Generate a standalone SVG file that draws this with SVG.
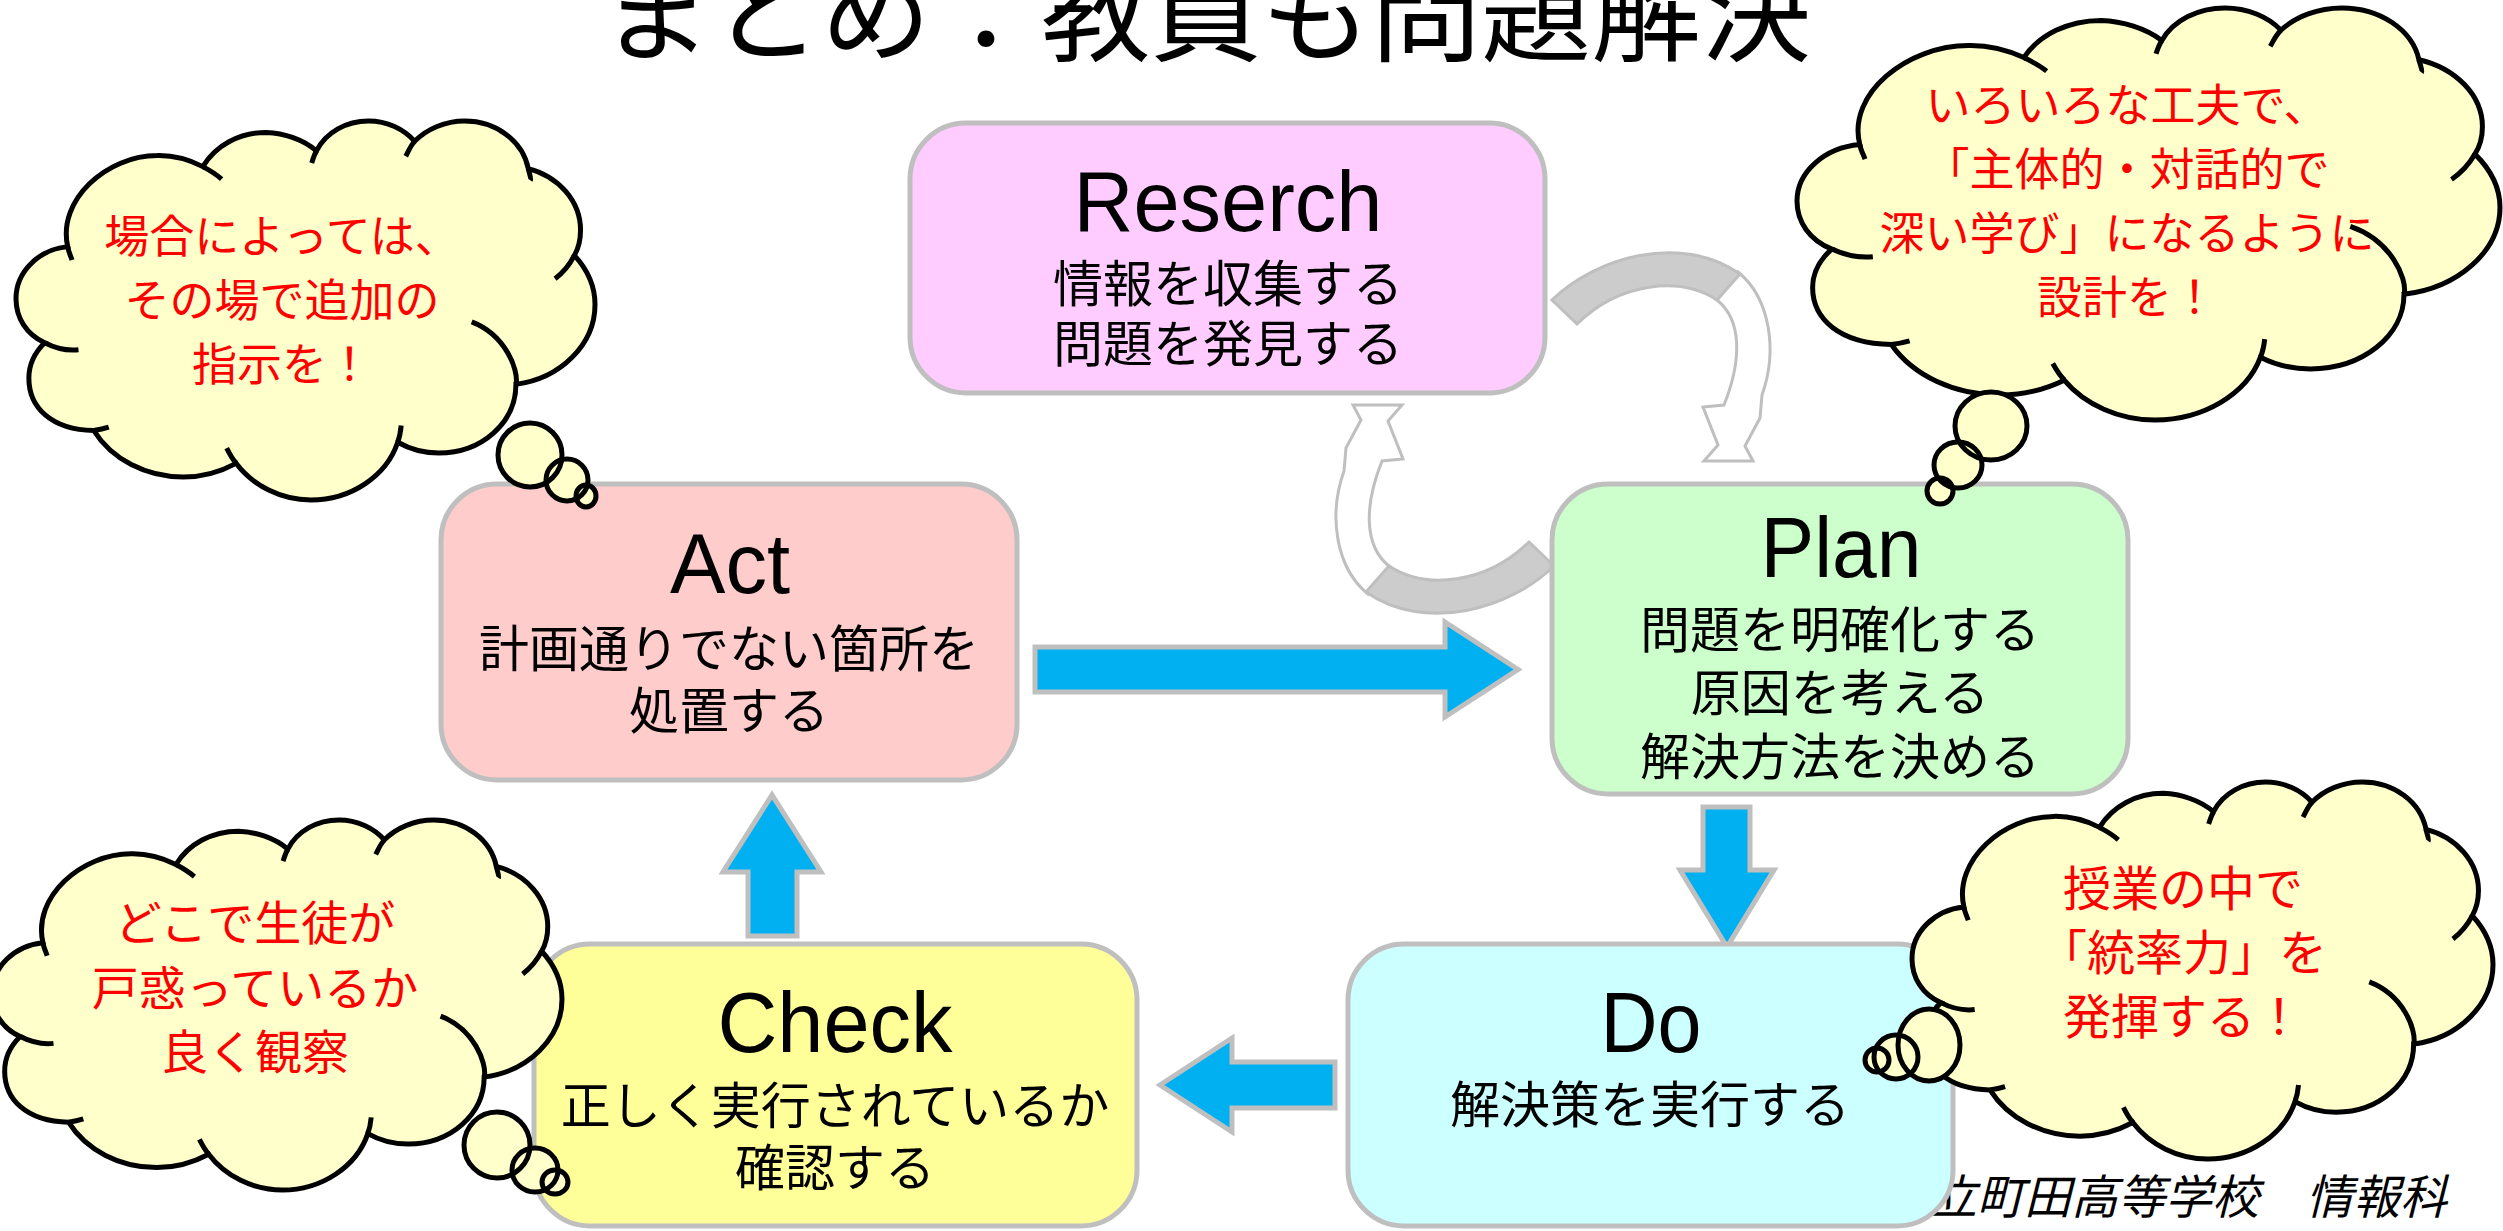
<svg xmlns="http://www.w3.org/2000/svg" xmlns:xlink="http://www.w3.org/1999/xlink" width="2503" height="1231" viewBox="0 0 2503 1231">
<style>
.box{stroke:#BFBFBF;stroke-width:5}
.lbl{font-family:"Liberation Sans","Noto Sans CJK JP",sans-serif;font-size:86px;fill:#000;text-anchor:middle}
.jp{font-family:"Noto Sans CJK JP","Liberation Sans",sans-serif;font-size:50px;fill:#000;text-anchor:middle}
.ctx{font-family:"Noto Sans CJK JP","Liberation Sans",sans-serif;fill:#FF0000;text-anchor:middle}
.arrow{fill:#00B0F0;stroke:#BFBFBF;stroke-width:5;stroke-linejoin:miter}
.band{fill:#CCCCCC;stroke:#BFBFBF;stroke-width:3}
.back{fill:#FFFFFF;stroke:#BFBFBF;stroke-width:3}
.cloud{fill:#FFFFCC;stroke:#000;stroke-width:5}
.cline{fill:none;stroke:#000;stroke-width:5}
.bf{fill:#FFFFCC;stroke:none}
.bs{fill:none;stroke:#000;stroke-width:5}
</style>
<defs>
<path id="cb" vector-effect="non-scaling-stroke" d="M1930,7160 C1530,4490 3400,1970 5270,1970 C5860,1950 6470,2210 6970,2600 C7450,1390 8340,650 9340,650 C10004,690 10710,1050 11210,1700 C11570,630 12330,0 13150,0 C13840,0 14470,460 14870,1160 C15330,440 16020,0 16740,0 C17910,0 18900,1130 19110,2710 C20240,3150 21060,4580 21060,6220 C21060,6720 21000,7200 20830,7660 C21310,8460 21600,9450 21600,10460 C21600,12750 20310,14680 18650,15010 C18650,17200 17370,18920 15770,18920 C15220,18920 14700,18710 14240,18310 C13820,20240 12490,21600 11000,21600 C9890,21600 8840,20790 8210,19510 C7620,20000 6930,20290 6240,20290 C4850,20290 3570,19280 2900,17640 C1300,17600 480,16300 480,14660 C480,13900 690,13210 1070,12640 C380,12160 0,11210 0,10120 C0,8590 840,7330 1930,7160 Z"/>
<path id="cl" vector-effect="non-scaling-stroke" d="M1930,7160 C1950,7410 2040,7690 2090,7920 M6970,2600 C7200,2790 7480,3050 7670,3310 M11210,1700 C11130,1910 11080,2160 11030,2400 M14870,1160 C14720,1400 14640,1720 14540,2010 M19110,2710 C19130,2890 19230,3290 19190,3380 M20830,7660 C20660,8170 20430,8620 20110,8990 M18660,14960 C18740,14200 18280,12200 17000,11450 M14240,18310 C14320,17980 14350,17680 14370,17360 M8220,19510 C8060,19250 7960,18950 7860,18640 M2900,17640 C3090,17600 3280,17540 3460,17450 M1070,12640 C1400,12900 1780,13130 2330,13040"/>
</defs>
<rect width="2503" height="1231" fill="#FFFFFF"/>

<text id="title" x="1206" y="53" font-family="'Noto Sans CJK JP',sans-serif" font-size="110" text-anchor="middle" fill="#000">まとめ：教員も問題解決</text>

<text id="footer" x="2447" y="1214" font-family="'Noto Sans CJK JP',sans-serif" font-size="47" font-style="italic" text-anchor="end" fill="#000">立町田高等学校　情報科</text>

<g id="connectors">
  <g id="cycle-top">
    <path class="back" d="M1738,272 C1770,298 1778,350 1762,395 L1760,418 L1745,446 L1753,461 L1704,461 L1718,445 L1703,407 L1724,405 C1742,360 1742,320 1717,300 Z"/>
    <path class="band" d="M1552,300 C1595,258 1680,232 1740,274 L1717,300 C1680,276 1620,282 1577,324 Z"/>
  </g>
  <g id="cycle-bottom" transform="rotate(180 1553 433)">
    <path class="back" d="M1738,272 C1770,298 1778,350 1762,395 L1760,418 L1745,446 L1753,461 L1704,461 L1718,445 L1703,407 L1724,405 C1742,360 1742,320 1717,300 Z"/>
    <path class="band" d="M1552,300 C1595,258 1680,232 1740,274 L1717,300 C1680,276 1620,282 1577,324 Z"/>
  </g>
  <polygon id="arr-act-plan" class="arrow" points="1035,647 1445,647 1445,622 1518,669.5 1445,717 1445,692 1035,692"/>
  <polygon id="arr-plan-do" class="arrow" points="1703,807 1750,807 1750,870 1774,870 1727,947 1680,870 1703,870"/>
  <polygon id="arr-do-check" class="arrow" points="1335,1062 1232,1062 1232,1038 1160,1085 1232,1132 1232,1108 1335,1108"/>
  <polygon id="arr-check-act" class="arrow" points="748,936 797,936 797,872 821,872 772,795 723,872 748,872"/>
</g>

<g id="node-reserch">
  <rect class="box" x="910" y="123" width="635" height="270" rx="56" fill="#FFCCFF"/>
  <text class="lbl" x="1228" y="231" textLength="309" lengthAdjust="spacingAndGlyphs">Reserch</text>
  <text class="jp" x="1228" y="302">情報を収集する<tspan x="1228" dy="60">問題を発見する</tspan></text>
</g>

<g id="node-act">
  <rect class="box" x="441" y="484" width="576" height="296" rx="56" fill="#FFCCCC"/>
  <text class="lbl" x="730" y="593" textLength="120" lengthAdjust="spacingAndGlyphs">Act</text>
  <text class="jp" x="729" y="667">計画通りでない箇所を<tspan x="729" dy="62">処置する</tspan></text>
</g>

<g id="node-plan">
  <rect class="box" x="1552" y="484" width="576" height="310" rx="56" fill="#CCFFCC"/>
  <text class="lbl" x="1841" y="577" textLength="161" lengthAdjust="spacingAndGlyphs">Plan</text>
  <text class="jp" x="1840" y="648">問題を明確化する<tspan x="1840" dy="63">原因を考える</tspan><tspan x="1840" dy="64">解決方法を決める</tspan></text>
</g>

<g id="node-check">
  <rect class="box" x="534" y="944" width="603" height="282" rx="56" fill="#FFFF99"/>
  <text class="lbl" x="835" y="1052" textLength="235" lengthAdjust="spacingAndGlyphs">Check</text>
  <text class="jp" x="835" y="1124">正しく実行されているか<tspan x="835" dy="62">確認する</tspan></text>
</g>

<g id="node-do">
  <rect class="box" x="1348" y="944" width="605" height="282" rx="56" fill="#CCFFFF"/>
  <text class="lbl" x="1651" y="1052" textLength="101" lengthAdjust="spacingAndGlyphs">Do</text>
  <text class="jp" x="1650" y="1123">解決策を実行する</text>
</g>

<g id="cloud-tl">
  <use xlink:href="#cb" class="cloud" transform="translate(16,121) scale(0.026806,0.017546)"/>
  <use xlink:href="#cl" class="cline" transform="translate(16,121) scale(0.026806,0.017546)"/>
  <ellipse class="bf" cx="530" cy="455" rx="32" ry="32"/>
  <ellipse class="bf" cx="567" cy="480" rx="21" ry="21"/>
  <ellipse class="bf" cx="586" cy="496" rx="10" ry="11"/>
  <ellipse class="bs" cx="530" cy="455" rx="32" ry="32"/>
  <ellipse class="bs" cx="567" cy="480" rx="21" ry="21"/>
  <ellipse class="bs" cx="586" cy="496" rx="10" ry="11"/>
  <text class="ctx" font-size="45" x="282" y="253">場合によっては、<tspan x="282" dy="64">その場で追加の</tspan><tspan x="282" dy="64">指示を！</tspan></text>
</g>

<g id="cloud-tr">
  <use xlink:href="#cb" class="cloud" transform="translate(1797,8) scale(0.032546,0.019074)"/>
  <use xlink:href="#cl" class="cline" transform="translate(1797,8) scale(0.032546,0.019074)"/>
  <ellipse class="bf" cx="1991" cy="426" rx="36" ry="34"/>
  <ellipse class="bf" cx="1958" cy="465" rx="24" ry="23"/>
  <ellipse class="bf" cx="1940" cy="491" rx="13" ry="13"/>
  <ellipse class="bs" cx="1991" cy="426" rx="36" ry="34"/>
  <ellipse class="bs" cx="1958" cy="465" rx="24" ry="23"/>
  <ellipse class="bs" cx="1940" cy="491" rx="13" ry="13"/>
  <text class="ctx" font-size="45" x="2127" y="122">いろいろな工夫で、<tspan x="2127" dy="64">「主体的・対話的で</tspan><tspan x="2127" dy="64">深い学び」になるように</tspan><tspan x="2127" dy="64">設計を！</tspan></text>
</g>

<g id="cloud-bl">
  <use xlink:href="#cb" class="cloud" transform="translate(-8,820) scale(0.026389,0.017130)"/>
  <use xlink:href="#cl" class="cline" transform="translate(-8,820) scale(0.026389,0.017130)"/>
  <ellipse class="bf" cx="497" cy="1145" rx="33" ry="33"/>
  <ellipse class="bf" cx="535" cy="1170" rx="23" ry="22"/>
  <ellipse class="bf" cx="555" cy="1182" rx="13" ry="12"/>
  <ellipse class="bs" cx="497" cy="1145" rx="33" ry="33"/>
  <ellipse class="bs" cx="535" cy="1170" rx="23" ry="22"/>
  <ellipse class="bs" cx="555" cy="1182" rx="13" ry="12"/>
  <text class="ctx" font-size="47" x="255" y="940">どこで生徒が<tspan x="255" dy="65">戸惑っているか</tspan><tspan x="255" dy="64">良く観察</tspan></text>
</g>

<g id="cloud-br">
  <use xlink:href="#cb" class="cloud" transform="translate(1912,782) scale(0.026898,0.017454)"/>
  <use xlink:href="#cl" class="cline" transform="translate(1912,782) scale(0.026898,0.017454)"/>
  <ellipse class="bf" cx="1929" cy="1045" rx="31" ry="36"/>
  <ellipse class="bf" cx="1896" cy="1057" rx="22" ry="22"/>
  <ellipse class="bf" cx="1877" cy="1060" rx="12" ry="12"/>
  <ellipse class="bs" cx="1929" cy="1045" rx="31" ry="36"/>
  <ellipse class="bs" cx="1896" cy="1057" rx="22" ry="22"/>
  <ellipse class="bs" cx="1877" cy="1060" rx="12" ry="12"/>
  <text class="ctx" font-size="48" x="2183" y="906">授業の中で<tspan x="2183" dy="64">「統率力」を</tspan><tspan x="2183" dy="64">発揮する！</tspan></text>
</g>
</svg>
